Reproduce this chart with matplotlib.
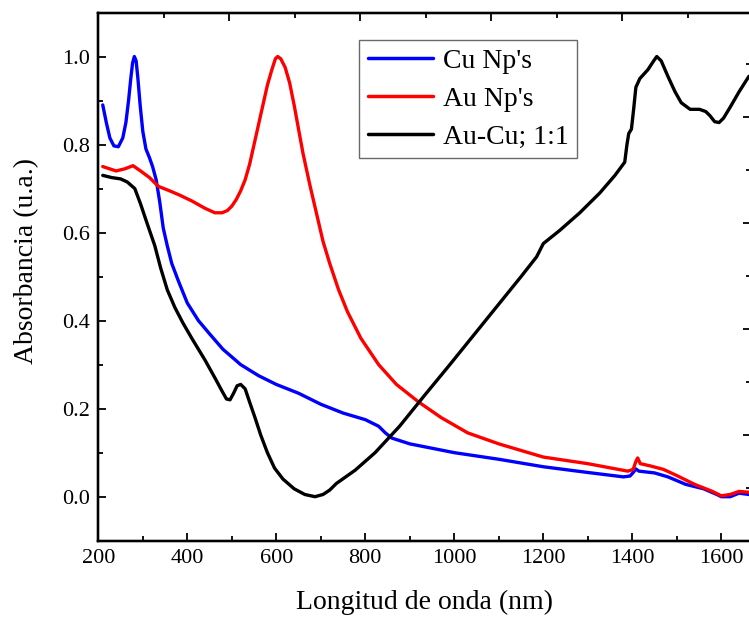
import matplotlib
matplotlib.use("Agg")
import matplotlib.pyplot as plt
from matplotlib.ticker import MultipleLocator, NullFormatter, FormatStrFormatter

plt.rcParams['font.family'] = ['Liberation Serif', 'DejaVu Serif']

# ---- data ----
cu_x = [210, 218, 226, 235, 245, 255, 262, 268, 273, 277, 281, 285, 289, 294, 300, 307, 315,
        322, 330, 338, 346, 355, 365, 380, 400, 425, 450, 480, 520, 560, 600, 650, 700, 750,
        800, 830, 845, 860, 900, 950, 1000, 1100, 1200, 1300, 1380, 1395, 1402, 1408, 1415,
        1450, 1480, 1520, 1560, 1590, 1600, 1620, 1640, 1662]
cu_y = [0.89, 0.85, 0.815, 0.797, 0.795, 0.815, 0.85, 0.90, 0.95, 0.985, 1.0, 0.99, 0.95,
        0.89, 0.83, 0.79, 0.77, 0.75, 0.72, 0.67, 0.61, 0.57, 0.53, 0.49, 0.44, 0.40, 0.37,
        0.335, 0.30, 0.275, 0.255, 0.235, 0.21, 0.19, 0.175, 0.16, 0.145, 0.133, 0.12, 0.11,
        0.10, 0.085, 0.068, 0.055, 0.045, 0.047, 0.055, 0.063, 0.058, 0.054, 0.045, 0.028,
        0.018, 0.005, 0.0, 0.0, 0.008, 0.005]

au_x = [210, 225, 240, 260, 278, 295, 315, 335, 360, 383, 410, 440, 462, 478, 490, 500, 510,
        520, 530, 540, 550, 560, 570, 580, 590, 598, 603, 610, 620, 630, 640, 650, 660, 675,
        690, 705, 720, 740, 760, 790, 830, 870, 920, 970, 1030, 1100, 1200, 1300, 1390, 1402,
        1408, 1412, 1418, 1440, 1470, 1500, 1540, 1580, 1600, 1620, 1640, 1662]
au_y = [0.75, 0.745, 0.74, 0.745, 0.752, 0.74, 0.725, 0.705, 0.695, 0.685, 0.672, 0.655,
        0.645, 0.645, 0.65, 0.66, 0.675, 0.695, 0.72, 0.755, 0.80, 0.845, 0.89, 0.935, 0.97,
        0.995, 1.0, 0.995, 0.975, 0.94, 0.89, 0.835, 0.78, 0.71, 0.645, 0.58, 0.53, 0.47,
        0.42, 0.36, 0.30, 0.255, 0.215, 0.18, 0.145, 0.12, 0.09, 0.075, 0.058, 0.062, 0.08,
        0.088, 0.075, 0.07, 0.062, 0.048, 0.028, 0.012, 0.002, 0.005, 0.012, 0.01]

bl_x = [210, 230, 250, 265, 282, 295, 310, 327, 340, 355, 372, 390, 410, 440, 462, 478, 488,
        496, 504, 512, 520, 530, 540, 552, 565, 580, 596, 615, 640, 664, 687, 705, 720, 735,
        777, 822, 877, 933, 990, 1046, 1102, 1150, 1185, 1200, 1237, 1282, 1327, 1361, 1383,
        1388, 1392, 1398, 1403, 1408, 1417, 1435, 1448, 1455, 1465, 1480, 1496, 1510, 1530,
        1551, 1565, 1575, 1585, 1595, 1605, 1620, 1640, 1662]
bl_y = [0.73, 0.725, 0.722, 0.715, 0.70, 0.665, 0.62, 0.57, 0.52, 0.47, 0.43, 0.395, 0.36,
        0.31, 0.27, 0.24, 0.222, 0.22, 0.235, 0.252, 0.255, 0.245, 0.215, 0.18, 0.14, 0.10,
        0.065, 0.04, 0.018, 0.005, 0.0, 0.005, 0.015, 0.03, 0.06, 0.10, 0.16, 0.23, 0.30,
        0.37, 0.44, 0.50, 0.545, 0.575, 0.605, 0.645, 0.69, 0.73, 0.76, 0.80, 0.825, 0.835,
        0.88, 0.93, 0.95, 0.97, 0.99, 1.0, 0.99, 0.955, 0.92, 0.895, 0.88, 0.88, 0.875, 0.865,
        0.852, 0.85, 0.86, 0.885, 0.92, 0.955]

labels = ["Cu Np's", "Au Np's", "Au-Cu; 1:1"]
colors = ['#0000ff', '#ff0000', '#000000']

fig = plt.figure(figsize=(7.49, 6.17), dpi=100)
ax = fig.add_axes([98.3 / 749, (617 - 540.7) / 617, (750.8 - 98.3) / 749, (540.7 - 12.5) / 617])

for xs, ys, c, lab in zip([cu_x, au_x, bl_x], [cu_y, au_y, bl_y], colors, labels):
    ax.plot(xs, ys, color=c, lw=2.4, label=lab, solid_joinstyle='round', solid_capstyle='round')

ax.set_xlim(200, 200 + (750.8 - 98.3) / 0.445)
ax.set_ylim(-0.1, 1.1)
ax.xaxis.set_major_locator(MultipleLocator(200))
ax.xaxis.set_minor_locator(MultipleLocator(100))
ax.yaxis.set_major_locator(MultipleLocator(0.2))
ax.yaxis.set_minor_locator(MultipleLocator(0.1))
ax.yaxis.set_major_formatter(FormatStrFormatter('%.1f'))
ax.tick_params(which='both', direction='in', top=False, right=False, labelsize=16, width=1.3)
ax.tick_params(which='major', length=6, pad=6)
ax.tick_params(which='minor', length=3.5)
for s in ax.spines.values():
    s.set_linewidth(1.6)

ax.set_xlabel('Longitud de onda (nm)', fontsize=20, labelpad=16)
ax.set_ylabel('Absorbancia (u.a.)', fontsize=20)
ax.yaxis.set_label_coords(-0.09, 0.53)

# secondary frames (top / right) with their own tick spacing
axr = ax.twinx()
axr.set_ylim(0, 528.2 / 106)
axr.yaxis.set_major_locator(MultipleLocator(1))
axr.yaxis.set_minor_locator(MultipleLocator(0.5))
axr.yaxis.set_major_formatter(NullFormatter())
axr.tick_params(which='both', direction='in', width=1.3)
axr.tick_params(which='major', length=6)
axr.tick_params(which='minor', length=3.5)

axt = ax.twiny()
axt.set_xlim(0, 652.5 / 131)
axt.xaxis.set_major_locator(MultipleLocator(1))
axt.xaxis.set_minor_locator(MultipleLocator(0.5))
axt.xaxis.set_major_formatter(NullFormatter())
axt.tick_params(which='both', direction='in', width=1.3)
axt.tick_params(which='major', length=6)
axt.tick_params(which='minor', length=3.5)
for a in (axr, axt):
    for s in a.spines.values():
        s.set_linewidth(1.6)

leg = ax.legend(loc='upper left', bbox_to_anchor=(0.4, 0.948), fontsize=20, frameon=True,
                fancybox=False, edgecolor='#444444', handlelength=2.35, handletextpad=0.35,
                borderpad=0.3, labelspacing=0.45, borderaxespad=0)
leg.get_frame().set_linewidth(1.0)
for l in leg.get_lines():
    l.set_linewidth(2.5)

fig.savefig('out.png', dpi=100)
